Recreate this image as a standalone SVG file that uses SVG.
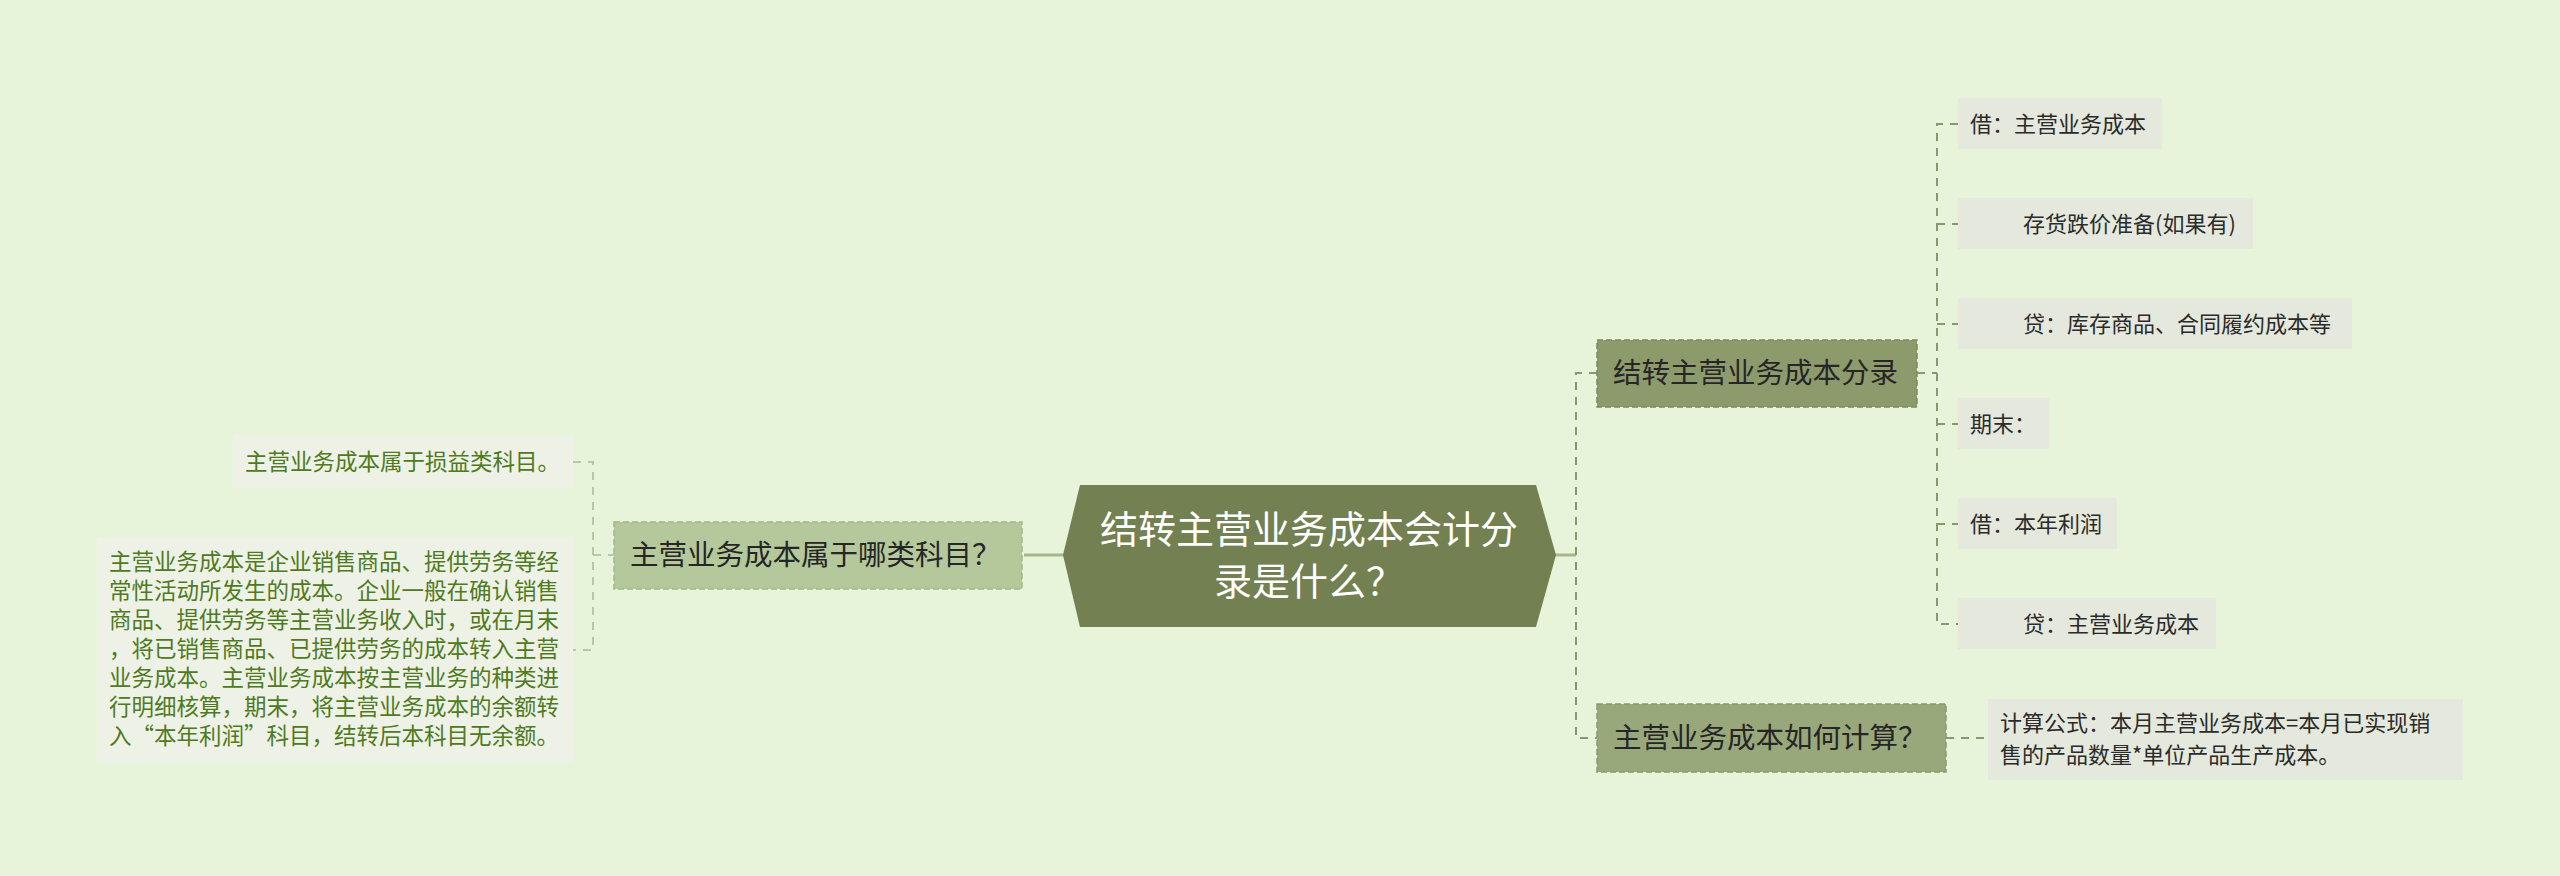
<svg xmlns="http://www.w3.org/2000/svg" width="2560" height="876" viewBox="0 0 2560 876">
<style>
text{font-family:"Noto Sans CJK SC","Noto Sans",sans-serif;}
.bg{fill:#e7f4da;}
.leafL{fill:#eef2e6;}
.leafR{fill:#e5e8dc;}
.tL{font-size:22.5px;fill:#4f7a22;}
.tR{font-size:22px;fill:#2b2b2b;}
.tB{font-size:28.5px;fill:#262626;}
.cR{stroke:#8a9870;stroke-width:2;fill:none;stroke-dasharray:8 7;}
.cL{stroke:#b8c8a4;stroke-width:2;fill:none;stroke-dasharray:8 7;}
.solid{stroke:#a7b78d;stroke-width:3;fill:none;}
</style>
<rect class="bg" x="0" y="0" width="2560" height="876"/>
<g id="connectors">
<line class="solid" x1="1024" y1="555" x2="1064" y2="555"/>
<line class="solid" x1="1555" y1="555" x2="1576" y2="555"/>
<path class="cL" d="M573 462 H593 V650 H573"/>
<line class="cL" x1="593" y1="555" x2="614" y2="555"/>
<path class="cR" d="M1597 373 H1576 V738 H1597"/>
<path class="cR" d="M1958 124 H1937 V624 H1958"/>
<line class="cR" x1="1917" y1="373" x2="1937" y2="373"/>
<line class="cR" x1="1937" y1="224" x2="1958" y2="224"/>
<line class="cR" x1="1937" y1="324" x2="1958" y2="324"/>
<line class="cR" x1="1937" y1="424" x2="1958" y2="424"/>
<line class="cR" x1="1937" y1="524" x2="1958" y2="524"/>
<line class="cR" x1="1946" y1="738" x2="1988" y2="738"/>
</g>
<g id="root">
<polygon points="1063,555 1080,485 1536,485 1556,555 1536,627 1080,627" fill="#728052"/>
<text x="1309" y="543" text-anchor="middle" font-size="38" fill="#ffffff">结转主营业务成本会计分</text>
<text x="1309" y="595" text-anchor="middle" font-size="38" fill="#ffffff">录是什么？</text>
</g>
<g id="left-branch">
<rect x="614" y="522" width="408" height="67" fill="#b4c89b" stroke="#a3b889" stroke-width="1.5" stroke-dasharray="6 3"/>
<text class="tB" x="630" y="565">主营业务成本属于哪类科目？</text>
</g>
<g id="left-leaf-1">
<rect class="leafL" x="233" y="435" width="340" height="53"/>
<text class="tL" x="245" y="470">主营业务成本属于损益类科目。</text>
</g>
<g id="left-leaf-2">
<rect class="leafL" x="97" y="537" width="476" height="226"/>
<text class="tL" x="109" y="570">主营业务成本是企业销售商品、提供劳务等经</text>
<text class="tL" x="109" y="599">常性活动所发生的成本。企业一般在确认销售</text>
<text class="tL" x="109" y="628">商品、提供劳务等主营业务收入时，或在月末</text>
<text class="tL" x="109" y="657">，将已销售商品、已提供劳务的成本转入主营</text>
<text class="tL" x="109" y="686">业务成本。主营业务成本按主营业务的种类进</text>
<text class="tL" x="109" y="715">行明细核算，期末，将主营业务成本的余额转</text>
<text class="tL" x="109" y="744">入“本年利润”科目，结转后本科目无余额。</text>
</g>
<g id="right-branch-1">
<rect x="1597" y="340" width="320" height="67" fill="#8c9a6c" stroke="#7b8a5c" stroke-width="1.5" stroke-dasharray="6 3"/>
<text class="tB" x="1613" y="383">结转主营业务成本分录</text>
</g>
<g id="right-branch-2">
<rect x="1597" y="704" width="349" height="68" fill="#98a87b" stroke="#889a6b" stroke-width="1.5" stroke-dasharray="6 3"/>
<text class="tB" x="1613" y="748">主营业务成本如何计算？</text>
</g>
<g id="leaf-r1">
<rect class="leafR" x="1958" y="98" width="204" height="51"/>
<text class="tR" x="1970" y="132">借：主营业务成本</text>
</g>
<g id="leaf-r2">
<rect class="leafR" x="1958" y="198" width="295" height="51"/>
<text class="tR" x="2023" y="232">存货跌价准备(如果有)</text>
</g>
<g id="leaf-r3">
<rect class="leafR" x="1958" y="298" width="394" height="51"/>
<text class="tR" x="2023" y="332">贷：库存商品、合同履约成本等</text>
</g>
<g id="leaf-r4">
<rect class="leafR" x="1958" y="398" width="91" height="51"/>
<text class="tR" x="1970" y="432">期末：</text>
</g>
<g id="leaf-r5">
<rect class="leafR" x="1958" y="498" width="159" height="51"/>
<text class="tR" x="1970" y="532">借：本年利润</text>
</g>
<g id="leaf-r6">
<rect class="leafR" x="1958" y="598" width="258" height="51"/>
<text class="tR" x="2023" y="632">贷：主营业务成本</text>
</g>
<g id="leaf-calc">
<rect class="leafR" x="1988" y="699" width="475" height="81"/>
<text class="tR" x="2000" y="731">计算公式：本月主营业务成本=本月已实现销</text>
<text class="tR" x="2000" y="763">售的产品数量*单位产品生产成本。</text>
</g>
</svg>
